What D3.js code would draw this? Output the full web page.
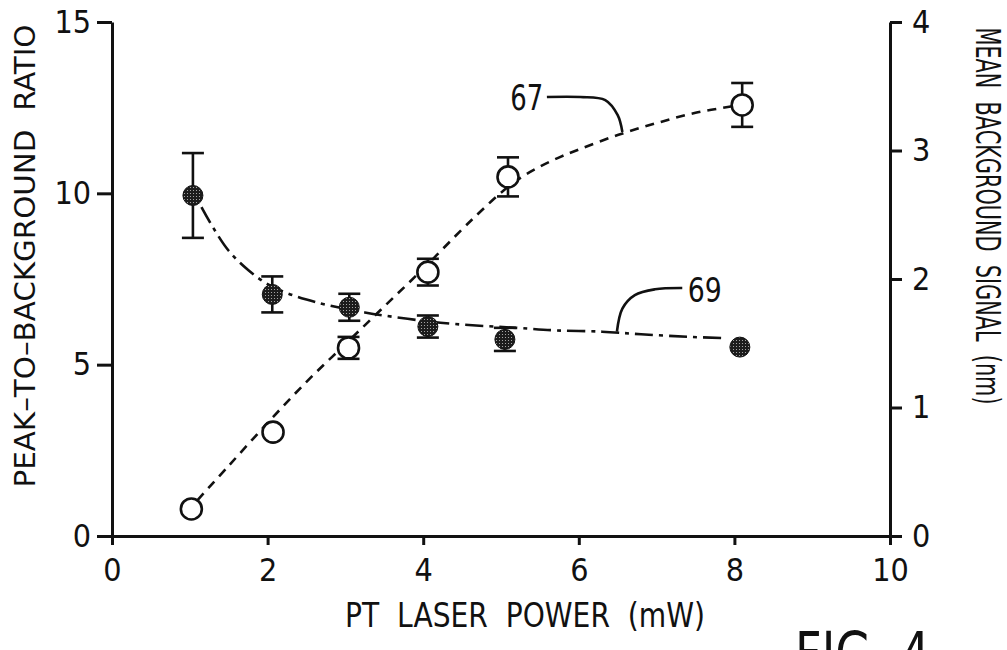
<!DOCTYPE html>
<html>
<head>
<meta charset="utf-8">
<script src="https://cdn.jsdelivr.net/npm/d3@7"></script>
<style>
    body { margin: 0; background: #fff; }
    text {
        font-family: "Liberation Sans Narrow", "DejaVu Sans Condensed", "Liberation Sans", sans-serif;
        fill: #111;
        white-space: pre;
    }
</style>
</head>
<body>
<div id="chart"></div>
<script>
"use strict";

// PT laser power (mW) of each measurement
const powerOpen = [1.02, 2.07, 3.04, 4.06, 5.09, 8.1];
const powerFilled = [1.04, 2.06, 3.05, 4.06, 5.05, 8.07];

// curve 67: peak-to-background ratio (left axis)
const ratioVals = [0.79, 3.03, 5.49, 7.70, 10.48, 12.58];
const ratioErr = [0, 0, 0.32, 0.39, 0.57, 0.64];

// curve 69: mean background signal, nm (right axis)
const bgVals = [2.65, 1.88, 1.78, 1.63, 1.53, 1.47];
const bgErr = [0.33, 0.14, 0.105, 0.086, 0.09, 0];

// fitted lines
const fit67X = [1.1, 1.5, 2.0, 2.5, 3.0, 3.5, 4.0, 4.5, 4.75, 5.0, 5.25, 5.5, 5.75, 6.0, 6.5, 7.0, 7.5, 8.0];
const fit67Y = [1.05, 2.05, 3.3, 4.5, 5.6, 6.7, 7.8, 8.95, 9.5, 10.02, 10.45, 10.78, 11.05, 11.28, 11.7, 12.05, 12.35, 12.55];
const fit69X = [1.15, 1.3, 1.5, 1.75, 2.0, 2.25, 2.5, 2.75, 3.25, 3.8, 4.4, 5.2, 5.7, 6.3, 6.8, 7.4, 7.9];
const fit69Y = [2.56, 2.40, 2.22, 2.07, 1.96, 1.89, 1.84, 1.80, 1.74, 1.69, 1.65, 1.62, 1.60, 1.59, 1.57, 1.55, 1.54];

// callout leaders (data units)
const lead67X = [5.59, 6.02, 6.34, 6.50, 6.56];
const lead67Y = [12.81, 12.81, 12.72, 12.28, 11.79];
const lead69X = [7.33, 6.98, 6.72, 6.56, 6.49];
const lead69Y = [1.93, 1.92, 1.875, 1.77, 1.59];

// tick labels
const xTicks = [0, 2, 4, 6, 8, 10];
const leftTicks = [0, 5, 10, 15];
const rightTicks = [0, 1, 2, 3, 4];

const msm = {
    width: 1007,
    height: 650,
    left: 112,
    right: 890,
    top: 22,
    bottom: 536
}

let svgContainer = "";

window.onload = function () {
    svgContainer = d3.select("#chart")
        .append("svg")
        .attr("width", msm.width)
        .attr("height", msm.height)
        .style("background", "#fff");

    // stippled fill used for the solid dots
    let pat = svgContainer.append("defs").append("pattern")
        .attr("id", "stipple")
        .attr("width", 3)
        .attr("height", 3)
        .attr("patternUnits", "userSpaceOnUse");
    pat.append("rect").attr("width", 3).attr("height", 3).attr("fill", "#1c1c1c");
    pat.append("circle").attr("cx", 1.5).attr("cy", 1.5).attr("r", 0.55).attr("fill", "#bbb");

    let map = drawAxes(svgContainer, msm);
    plotData(map);
    makeLabels(svgContainer, map);
}

// draw the three axes and return the scales
function drawAxes(svg, msm) {
    let xScale = d3.scaleLinear()
        .domain([0, 10])
        .range([msm.left, msm.right]);
    let yLeft = d3.scaleLinear()
        .domain([0, 15])
        .range([msm.bottom, msm.top]);
    let yRight = d3.scaleLinear()
        .domain([0, 4])
        .range([msm.bottom, msm.top]);

    let fmt = d3.format("d");
    let xAxis = d3.axisBottom(xScale).tickValues(xTicks).tickFormat(fmt).tickSize(9).tickSizeOuter(0).tickPadding(13);
    let lAxis = d3.axisLeft(yLeft).tickValues(leftTicks).tickFormat(fmt).tickSize(15).tickSizeOuter(0).tickPadding(6);
    let rAxis = d3.axisRight(yRight).tickValues(rightTicks).tickFormat(fmt).tickSize(12).tickSizeOuter(0).tickPadding(10);

    let gx = svg.append("g")
        .attr("transform", "translate(0," + msm.bottom + ")")
        .call(xAxis);
    let gl = svg.append("g")
        .attr("transform", "translate(" + msm.left + ",0)")
        .call(lAxis);
    let gr = svg.append("g")
        .attr("transform", "translate(" + msm.right + ",0)")
        .call(rAxis);

    [gx, gl, gr].forEach((g) => {
        g.selectAll("path, line")
            .attr("stroke", "#111")
            .attr("stroke-width", 3);
        g.selectAll("text")
            .attr("fill", "#111")
            .style("font-size", "32px");
    });

    return {
        x: xScale,
        yL: yLeft,
        yR: yRight
    };
}

// curves, error bars and markers
function plotData(map) {
    let fit67 = fit67X.map((x, i) => [x, fit67Y[i]]);
    let fit69 = fit69X.map((x, i) => [x, fit69Y[i]]);

    let line67 = d3.line()
        .x((d) => map.x(d[0]))
        .y((d) => map.yL(d[1]))
        .curve(d3.curveCatmullRom);
    let line69 = d3.line()
        .x((d) => map.x(d[0]))
        .y((d) => map.yR(d[1]))
        .curve(d3.curveCatmullRom);

    svgContainer.append("path")
        .attr("d", line67(fit67))
        .attr("fill", "none")
        .attr("stroke", "#111")
        .attr("stroke-width", 2.6)
        .attr("stroke-dasharray", "9,7");

    svgContainer.append("path")
        .attr("d", line69(fit69))
        .attr("fill", "none")
        .attr("stroke", "#111")
        .attr("stroke-width", 2.6)
        .attr("stroke-dasharray", "18,6,4,6");

    let openData = powerOpen.map((x, i) => ({ x: x, y: ratioVals[i], e: ratioErr[i] }));
    let filledData = powerFilled.map((x, i) => ({ x: x, y: bgVals[i], e: bgErr[i] }));

    drawErrorBars(openData.filter((d) => d.e > 0), map.x, map.yL);
    drawErrorBars(filledData.filter((d) => d.e > 0), map.x, map.yR);

    svgContainer.selectAll(".open")
        .data(openData)
        .enter()
        .append("circle")
        .attr("class", "open")
        .attr("cx", (d) => map.x(d.x))
        .attr("cy", (d) => map.yL(d.y))
        .attr("r", 10.5)
        .attr("fill", "#fff")
        .attr("stroke", "#111")
        .attr("stroke-width", 2.6);

    svgContainer.selectAll(".filled")
        .data(filledData)
        .enter()
        .append("circle")
        .attr("class", "filled")
        .attr("cx", (d) => map.x(d.x))
        .attr("cy", (d) => map.yR(d.y))
        .attr("r", 10)
        .attr("fill", "url(#stipple)")
        .attr("stroke", "#111")
        .attr("stroke-width", 1);
}

function drawErrorBars(rows, xs, ys) {
    let g = svgContainer.append("g")
        .attr("stroke", "#111")
        .attr("stroke-width", 2.6);
    rows.forEach((d) => {
        let cx = xs(d.x);
        g.append("line")
            .attr("x1", cx).attr("x2", cx)
            .attr("y1", ys(d.y - d.e)).attr("y2", ys(d.y + d.e));
        [d.y - d.e, d.y + d.e].forEach((v) => {
            g.append("line")
                .attr("x1", cx - 11).attr("x2", cx + 11)
                .attr("y1", ys(v)).attr("y2", ys(v));
        });
    });
}

// axis titles, callouts and figure number
function makeLabels(svg, map) {
    svg.append("text")
        .attr("transform", "translate(35,256) rotate(-90)")
        .attr("text-anchor", "middle")
        .attr("textLength", 463)
        .attr("lengthAdjust", "spacingAndGlyphs")
        .style("font-size", "28px")
        .text("PEAK\u2013TO\u2013BACKGROUND  RATIO");

    svg.append("text")
        .attr("transform", "translate(976,216) rotate(90)")
        .attr("text-anchor", "middle")
        .attr("textLength", 377)
        .attr("lengthAdjust", "spacingAndGlyphs")
        .style("font-size", "33px")
        .text("MEAN  BACKGROUND  SIGNAL  (nm)");

    svg.append("text")
        .attr("x", 525)
        .attr("y", 627)
        .attr("text-anchor", "middle")
        .attr("textLength", 360)
        .attr("lengthAdjust", "spacingAndGlyphs")
        .style("font-size", "33px")
        .text("PT  LASER  POWER  (mW)");

    svg.append("text")
        .attr("x", 795)
        .attr("y", 675)
        .attr("textLength", 135)
        .attr("lengthAdjust", "spacingAndGlyphs")
        .style("font-size", "60px")
        .text("FIG. 4");

    let leadL = d3.line()
        .x((d) => map.x(d[0]))
        .y((d) => map.yL(d[1]))
        .curve(d3.curveCatmullRom);
    let leadR = d3.line()
        .x((d) => map.x(d[0]))
        .y((d) => map.yR(d[1]))
        .curve(d3.curveCatmullRom);

    // callout 67
    svg.append("path")
        .attr("d", leadL(lead67X.map((x, i) => [x, lead67Y[i]])))
        .attr("fill", "none")
        .attr("stroke", "#111")
        .attr("stroke-width", 2.6);
    svg.append("text")
        .attr("x", map.x(5.12))
        .attr("y", map.yL(12.43))
        .attr("textLength", 33)
        .attr("lengthAdjust", "spacingAndGlyphs")
        .style("font-size", "36px")
        .text("67");

    // callout 69
    svg.append("path")
        .attr("d", leadR(lead69X.map((x, i) => [x, lead69Y[i]])))
        .attr("fill", "none")
        .attr("stroke", "#111")
        .attr("stroke-width", 2.6);
    svg.append("text")
        .attr("x", map.x(7.4))
        .attr("y", map.yR(1.82))
        .attr("textLength", 34)
        .attr("lengthAdjust", "spacingAndGlyphs")
        .style("font-size", "34px")
        .text("69");
}
</script>
</body>
</html>
